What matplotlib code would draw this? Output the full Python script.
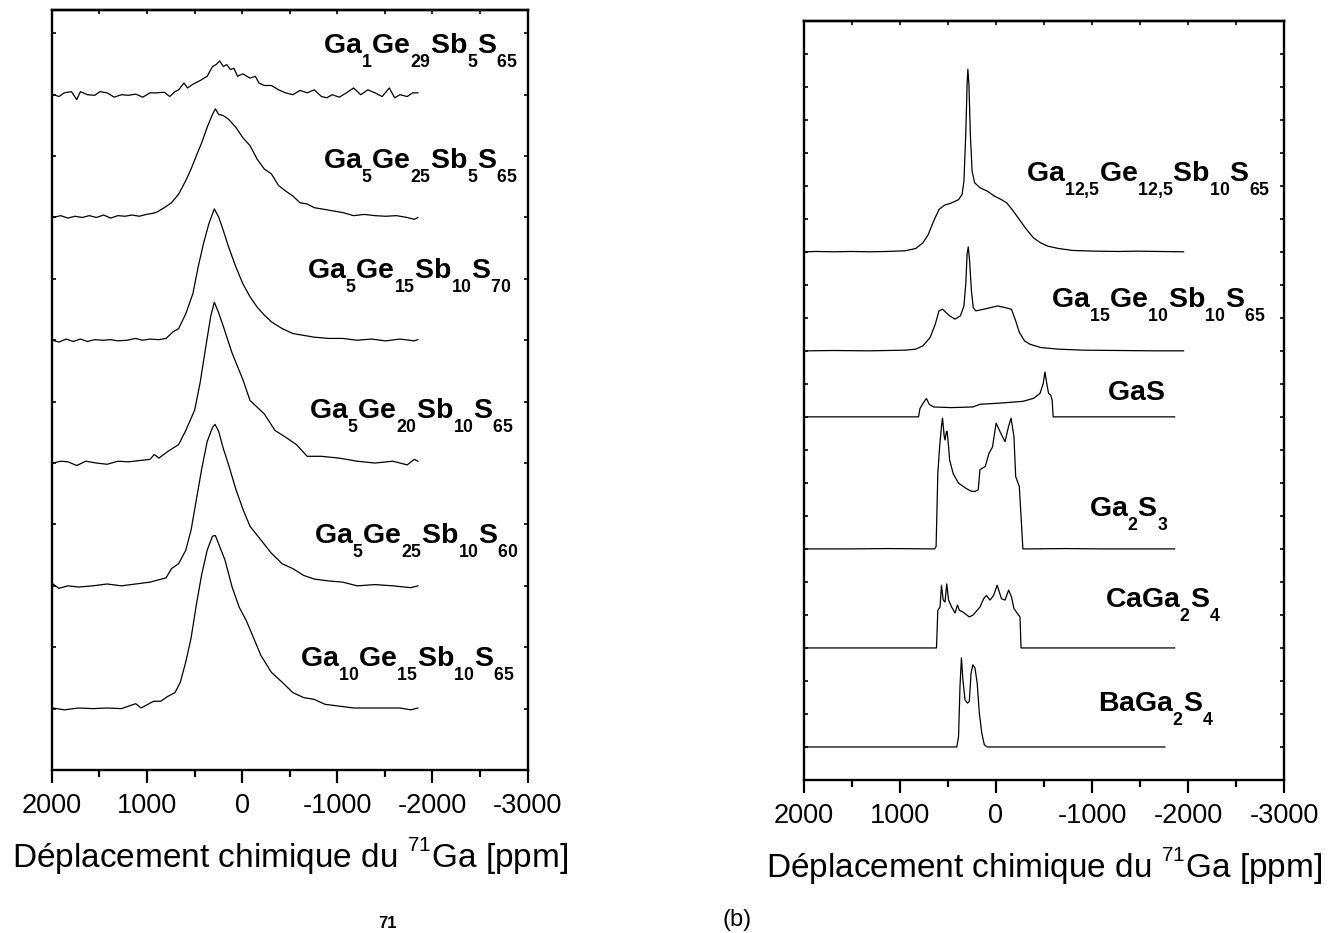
import matplotlib.pyplot as plt
import matplotlib._mathtext as mathtext_internals
from matplotlib.ticker import MultipleLocator

plt.rcParams['font.family'] = ['Liberation Sans', 'DejaVu Sans']
plt.rcParams['mathtext.fontset'] = 'custom'
plt.rcParams['mathtext.rm'] = 'Liberation Sans'
plt.rcParams['mathtext.bf'] = 'Liberation Sans:bold'
plt.rcParams['mathtext.it'] = 'Liberation Sans:italic'
plt.rcParams['axes.unicode_minus'] = False

# Origin-like indices: smaller and dropped well below the baseline
mathtext_internals.SHRINK_FACTOR = 0.62
mathtext_internals.FontConstantsBase.sub1 = 0.95
mathtext_internals.FontConstantsBase.sup1 = 0.9

# ---- (a) glasses, 71Ga NMR, chemical shift in ppm / intensity (a.u.) ----
a_names = [r'$\mathbf{Ga_{1}Ge_{29}Sb_{5}S_{65}}$',
           r'$\mathbf{Ga_{5}Ge_{25}Sb_{5}S_{65}}$',
           r'$\mathbf{Ga_{5}Ge_{15}Sb_{10}S_{70}}$',
           r'$\mathbf{Ga_{5}Ge_{20}Sb_{10}S_{65}}$',
           r'$\mathbf{Ga_{5}Ge_{25}Sb_{10}S_{60}}$',
           r'$\mathbf{Ga_{10}Ge_{15}Sb_{10}S_{65}}$']
a_offsets = [11, 9, 7, 5, 3, 1]

a1_ppm = [1980, 1924, 1868, 1793, 1737, 1699, 1624, 1549, 1493, 1418, 1343, 1268, 1193, 1118,
          1043, 968, 893, 817, 761, 705, 667, 611, 574, 517, 442, 367, 311, 274, 236, 198, 161,
          123, 86, 48, -8, -83, -139, -177, -233, -308, -383, -458, -533, -608, -683, -758,
          -833, -890, -946, -1021, -1096, -1171, -1246, -1321, -1396, -1471, -1546, -1602,
          -1659, -1734, -1790, -1846]
a1_int = [0, -0.03, 0.03, 0.05, -0.08, 0.05, 0, -0.01, 0.05, 0.03, -0.04, 0, -0.01, 0.01,
          -0.04, 0.03, 0.03, 0.04, -0.03, 0.05, 0.08, 0.19, 0.11, 0.17, 0.23, 0.30, 0.46, 0.49,
          0.55, 0.46, 0.49, 0.41, 0.43, 0.30, 0.34, 0.27, 0.30, 0.19, 0.15, 0.15, 0.08, 0.03, 0,
          0.07, 0.03, 0.08, -0.03, -0.05, 0, -0.04, 0.03, 0.11, 0, 0.08, 0.03, -0.03, 0.11,
          -0.05, 0, -0.03, 0.03, 0.03]

a2_ppm = [1988, 1905, 1830, 1755, 1680, 1605, 1530, 1455, 1380, 1305, 1230, 1155, 1080, 1005,
          930, 893, 817, 742, 667, 592, 536, 480, 424, 367, 311, 281, 247, 198, 142, 67, -8,
          -83, -158, -233, -308, -383, -458, -533, -608, -683, -758, -833, -946, -1058, -1171,
          -1283, -1396, -1509, -1621, -1734, -1809, -1846]
a2_int = [0, 0.03, -0.01, 0.02, 0, 0.03, 0, 0.04, -0.01, 0.03, 0.02, 0.04, 0.02, 0.05, 0.07,
          0.09, 0.16, 0.24, 0.38, 0.60, 0.79, 1.01, 1.22, 1.47, 1.68, 1.77, 1.68, 1.66, 1.60,
          1.47, 1.30, 1.17, 0.95, 0.79, 0.71, 0.52, 0.43, 0.35, 0.24, 0.22, 0.16, 0.14, 0.11,
          0.08, 0.03, 0.05, 0.03, 0.02, 0.03, 0, -0.03, 0]

a3_ppm = [1988, 1924, 1849, 1774, 1699, 1624, 1549, 1455, 1380, 1305, 1211, 1118, 1043, 968,
          874, 799, 724, 667, 592, 517, 461, 405, 349, 292, 247, 198, 142, 67, -8, -83, -158,
          -233, -308, -421, -533, -646, -758, -908, -1058, -1208, -1358, -1508, -1658, -1808,
          -1846]
a3_int = [0, -0.03, 0.02, -0.02, 0.02, -0.02, 0.01, 0, 0.01, -0.01, 0, 0.03, 0, 0.02, 0.01,
          0.03, 0.14, 0.19, 0.43, 0.76, 1.20, 1.58, 1.90, 2.14, 2.01, 1.79, 1.52, 1.20, 0.92,
          0.71, 0.54, 0.41, 0.30, 0.19, 0.11, 0.08, 0.05, 0.03, 0.03, 0, 0.02, -0.01, 0.02,
          -0.01, 0.01]

a4_ppm = [1988, 1905, 1830, 1737, 1643, 1530, 1418, 1305, 1193, 1080, 968, 922, 874, 780, 667,
          592, 499, 442, 386, 330, 292, 247, 198, 105, -8, -83, -233, -346, -458, -571, -683,
          -833, -1021, -1208, -1396, -1584, -1734, -1809, -1846]
a4_int = [0, 0.03, 0.02, -0.04, 0.03, 0, -0.02, 0.03, 0.02, 0.04, 0.06, 0.14, 0.08, 0.19, 0.30,
          0.53, 0.86, 1.30, 1.85, 2.39, 2.62, 2.45, 2.23, 1.79, 1.36, 1.02, 0.80, 0.53, 0.42,
          0.30, 0.11, 0.11, 0.08, 0.03, 0, 0.03, -0.03, 0.06, 0.03]

a5_ppm = [1988, 1924, 1830, 1718, 1568, 1418, 1268, 1118, 968, 799, 742, 667, 592, 536, 480,
          424, 367, 311, 285, 247, 198, 142, 67, -8, -83, -196, -308, -421, -533, -646, -758,
          -908, -1058, -1208, -1396, -1584, -1771, -1846]
a5_int = [0.03, -0.04, 0, -0.02, 0, 0.03, 0, 0.03, 0.06, 0.13, 0.28, 0.36, 0.58, 0.91, 1.41,
          1.91, 2.35, 2.58, 2.63, 2.52, 2.24, 1.97, 1.58, 1.25, 0.97, 0.75, 0.53, 0.36, 0.28,
          0.17, 0.11, 0.08, 0.06, 0, 0.02, 0, -0.03, 0]

a6_ppm = [1988, 1868, 1718, 1568, 1418, 1268, 1118, 1061, 930, 855, 780, 705, 649, 592, 536,
          480, 424, 367, 311, 281, 236, 180, 105, 30, -45, -121, -196, -308, -421, -533, -646,
          -758, -871, -1021, -1171, -1321, -1509, -1659, -1771, -1846]
a6_int = [0.01, -0.02, 0.01, 0, 0.01, 0, 0.08, 0.01, 0.12, 0.12, 0.20, 0.26, 0.43, 0.76, 1.15,
          1.70, 2.19, 2.58, 2.81, 2.82, 2.64, 2.42, 1.98, 1.65, 1.43, 1.15, 0.87, 0.59, 0.43,
          0.26, 0.18, 0.15, 0.07, 0.04, 0.01, 0.01, 0.01, 0.01, -0.02, 0.01]

# ---- (b) crystalline references and Ga-rich glasses ----
b_names = [r'$\mathbf{Ga_{12{,}5}Ge_{12{,}5}Sb_{10}S_{65}}$',
           r'$\mathbf{Ga_{15}Ge_{10}Sb_{10}S_{65}}$',
           r'$\mathbf{GaS}$',
           r'$\mathbf{Ga_{2}S_{3}}$',
           r'$\mathbf{CaGa_{2}S_{4}}$',
           r'$\mathbf{BaGa_{2}S_{4}}$']
b_offsets = [16, 13, 11, 7, 4, 1]

b1_ppm = [1971, 1878, 1692, 1506, 1320, 1134, 948, 836, 762, 706, 650, 594, 539, 464, 390, 353,
          334, 315, 301, 293, 282, 267, 249, 222, 167, 92, 18, -57, -112, -168, -243, -317,
          -391, -466, -540, -652, -801, -1024, -1284, -1470, -1693, -1954]
b1_int = [0, 0.01, 0, 0.01, 0, 0.01, 0.03, 0.10, 0.27, 0.52, 0.93, 1.28, 1.41, 1.48, 1.58, 1.74,
          2.14, 3.56, 5.07, 5.53, 5.07, 3.56, 2.44, 2.09, 1.94, 1.84, 1.69, 1.58, 1.48, 1.28,
          0.98, 0.68, 0.42, 0.27, 0.17, 0.10, 0.04, 0.02, 0.01, 0.02, 0.01, 0]

b2_ppm = [1971, 1692, 1320, 948, 836, 762, 687, 632, 594, 557, 520, 483, 427, 371, 334, 315, 301,
          289, 275, 256, 237, 211, 129, 55, -19, -94, -161, -205, -243, -298, -354, -466, -652,
          -912, -1284, -1656, -1954]
b2_int = [0, 0.01, 0, 0.02, 0.05, 0.15, 0.40, 0.81, 1.21, 1.26, 1.16, 1.06, 0.96, 1.06, 1.36,
          2.02, 2.93, 3.15, 2.73, 1.82, 1.31, 1.21, 1.26, 1.31, 1.36, 1.31, 1.26, 0.91, 0.56,
          0.30, 0.20, 0.10, 0.05, 0.02, 0.01, 0, 0]

b3_ppm = [1971, 1506, 1134, 807, 792, 762, 725, 695, 650, 464, 241, 167, -57, -280, -391, -458,
          -492, -510, -529, -548, -570, -585, -596, -726, -1098, -1470, -1861]
b3_int = [0, 0, 0, 0, 0.25, 0.40, 0.56, 0.38, 0.30, 0.28, 0.30, 0.38, 0.42, 0.47, 0.56, 0.71,
          1.01, 1.36, 1.01, 0.71, 0.66, 0.50, 0, 0, 0, 0, 0]

b4_ppm = [1971, 1506, 1134, 639, 624, 606, 587, 568, 557, 539, 531, 516, 509, 494, 483, 446, 390,
          315, 260, 222, 185, 167, 111, 74, 36, -1, -49, -94, -131, -157, -187, -205, -243,
          -261, -280, -354, -726, -1098, -1470, -1861]
b4_int = [0, 0, 0.01, 0, 0.07, 2.29, 3.10, 3.71, 3.96, 3.40, 3.30, 3.56, 3.56, 3.10, 2.69, 2.28,
          1.99, 1.84, 1.75, 1.74, 1.79, 2.40, 2.50, 2.89, 3.09, 3.81, 3.51, 3.25, 3.71, 3.96,
          3.40, 2.19, 1.89, 0.98, 0, 0, 0.01, 0, 0, 0]

b5_ppm = [1971, 1320, 620, 606, 583, 568, 550, 531, 513, 494, 464, 427, 401, 382, 345, 278, 241,
          167, 129, 100, 62, 25, -12, -57, -94, -131, -161, -187, -224, -250, -261, -317, -726,
          -1470, -1861]
b5_int = [0, 0, 0, 1.14, 1.24, 1.90, 1.45, 1.39, 1.94, 1.45, 1.25, 1.06, 1.30, 1.14, 1.09, 0.94,
          0.99, 1.24, 1.49, 1.59, 1.45, 1.59, 1.90, 1.49, 1.45, 1.75, 1.55, 1.19, 1.04, 0.94, 0,
          0, 0, 0, 0]

b6_ppm = [1971, 1134, 408, 390, 375, 360, 345, 323, 297, 278, 260, 241, 219, 196, 174, 148, 122,
          92, -354, -1098, -1760]
b6_int = [0, 0, 0, 0.32, 1.84, 2.70, 2.04, 1.43, 1.33, 1.38, 2.23, 2.49, 2.39, 1.94, 1.04, 0.42,
          0.07, 0, 0, 0, 0]

# label anchors (ppm, y) - left edge / baseline of each sample name
a_label_x = [-850, -850, -682, -703, -755, -608]
a_label_y = [11.66, 9.80, 8.01, 5.72, 3.68, 1.69]
b_label_x = [-313, -573, -1156, -969, -1135, -1063]
b_label_y = [18.12, 14.30, 11.52, 7.97, 5.21, 2.06]

a_ppm = [a1_ppm, a2_ppm, a3_ppm, a4_ppm, a5_ppm, a6_ppm]
a_int = [a1_int, a2_int, a3_int, a4_int, a5_int, a6_int]
b_ppm = [b1_ppm, b2_ppm, b3_ppm, b4_ppm, b5_ppm, b6_ppm]
b_int = [b1_int, b2_int, b3_int, b4_int, b5_int, b6_int]

xlabel = r'Déplacement chimique du $^{71}$Ga [ppm]'


def draw_panel(ax, ppms, ints, offsets, names, lx, ly, ytop):
    for p, i, off, name, x, y in zip(ppms, ints, offsets, names, lx, ly):
        ax.plot(p, [v + off for v in i], color='black', lw=0.9)
        ax.text(x, y, name, fontsize=20.5, ha='left', va='baseline')

    ax.set_xlim(2000, -3000)
    ax.set_ylim(0, ytop)
    ax.set_xticks([2000, 1000, 0, -1000, -2000, -3000])
    ax.set_xticklabels(['2000', '1000', '0', '-1000', '-2000', '-3000'])
    ax.xaxis.set_minor_locator(MultipleLocator(500))
    ax.yaxis.set_major_locator(MultipleLocator(1))
    ax.set_yticklabels([])
    for s in ax.spines.values():
        s.set_linewidth(1.7)

    ax.tick_params(axis='x', which='major', direction='out', length=9.5, width=1.6,
                   labelsize=19.5, pad=7, top=False)
    ax.tick_params(axis='x', which='minor', direction='out', length=5, width=1.6, top=False)
    ax.tick_params(axis='y', which='major', direction='in', length=3, width=1.2,
                   left=True, right=True, labelleft=False)

    # small inward ticks along the top frame
    top = ax.secondary_xaxis('top')
    top.set_xticks([2000, 1000, 0, -1000, -2000, -3000])
    top.xaxis.set_minor_locator(MultipleLocator(500))
    top.tick_params(which='both', direction='in', length=3, width=1.2, labeltop=False)
    top.spines['top'].set_linewidth(1.7)

    ax.set_xlabel(xlabel, fontsize=24, labelpad=12)


fig = plt.figure(figsize=(13.4, 9.33), dpi=100)
ax_a = fig.add_axes([0.0386, 0.1747, 0.3552, 0.8146])
ax_b = fig.add_axes([0.6, 0.164, 0.3582, 0.8138])

draw_panel(ax_a, a_ppm, a_int, a_offsets, a_names, a_label_x, a_label_y, 12.38)
draw_panel(ax_b, b_ppm, b_int, b_offsets, b_names, b_label_x, b_label_y, 23)

fig.text(0.55, 0.014, '(b)', fontsize=17, ha='center', va='center')
# index left over from the caption line at the very bottom
fig.text(0.282, 0.002, '71', fontsize=12, fontweight='bold', ha='left', va='bottom')

fig.savefig('out.png', dpi=100)
